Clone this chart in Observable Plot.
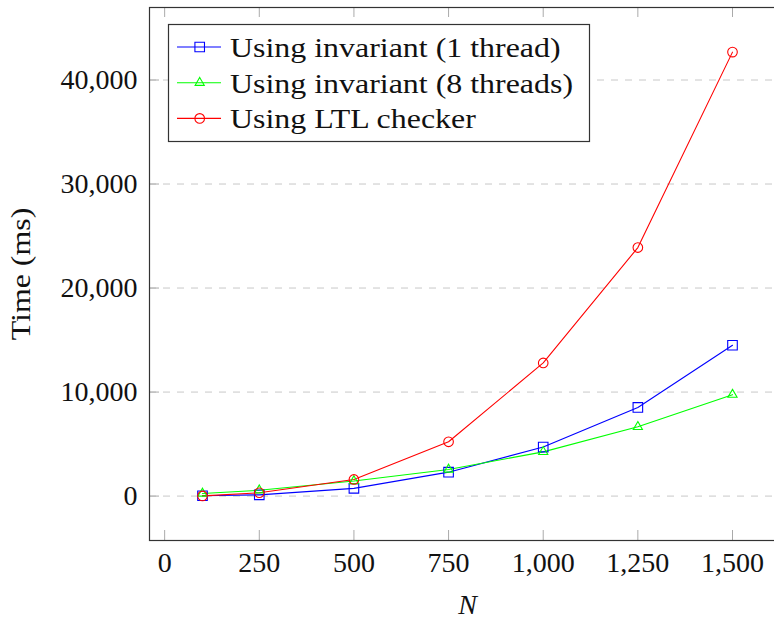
<!DOCTYPE html>
<html>
<head>
<meta charset="utf-8">
<script src="https://cdn.jsdelivr.net/npm/d3@7"></script>
<script src="https://cdn.jsdelivr.net/npm/@observablehq/plot@0.6"></script>
<style>
  html, body { margin: 0; padding: 0; background: #fff; overflow: hidden; }
  #wrap { position: relative; width: 774px; height: 618px; overflow: hidden; }
  #wrap svg { max-width: none !important; display: block; }
  #legend { position: absolute; left: 0; top: 0; }
</style>
</head>
<body>
<div id="wrap"></div>
<script>
// ---- data ----
const N = [100, 250, 500, 750, 1000, 1250, 1500];
const inv1 = [30, 120, 740, 2300, 4710, 8520, 14500];
const inv8 = [250, 560, 1450, 2560, 4250, 6660, 9750];
const ltl = [20, 320, 1600, 5220, 12800, 23890, 42680];
const seriesNames = ["Using invariant (1 thread)", "Using invariant (8 threads)", "Using LTL checker"];
const seriesColors = ["#0000ff", "#00ff00", "#ff0000"];
const seriesSymbols = ["square", "triangle", "circle"];
const xTicks = [0, 250, 500, 750, 1000, 1250, 1500];
const yTicks = [0, 10000, 20000, 30000, 40000];

const seriesValues = [inv1, inv8, ltl];
const rows = [];
seriesValues.forEach((vals, s) => vals.forEach((v, i) => rows.push({series: seriesNames[s], n: N[i], t: v, s})));

const symR = {square: 5.4, triangle: 3.4, circle: 4.8};
const FONT = "Liberation Serif";
const STRETCH = 1.14; // widen glyphs toward the reference's Palatino-like face
const fmt = d3.format(",");

const W = 790, H = 618, ML = 149, MR = 5, MT = 7, MB = 78;
const plotW = W - ML - MR, plotH = H - MT - MB, TICK = 10;

const chart = Plot.plot({
  width: W,
  height: H,
  marginLeft: ML,
  marginRight: MR,
  marginTop: MT,
  marginBottom: MB,
  style: {fontFamily: FONT, fontSize: "28px", color: "#111", background: "#fff", maxWidth: "none"},
  x: {domain: [-40, 1640]},
  y: {domain: [-4270, 46970]},
  marks: [
    Plot.gridY(yTicks, {stroke: "#c8c8c8", strokeOpacity: 1, strokeDasharray: "7,7"}),
    // inner tick marks
    Plot.tickX(xTicks, {x: d => d, stroke: "#aaa", strokeWidth: 1, insetTop: plotH - TICK}),
    Plot.tickX(xTicks, {x: d => d, stroke: "#aaa", strokeWidth: 1, insetBottom: plotH - TICK}),
    Plot.tickY(yTicks, {y: d => d, stroke: "#aaa", strokeWidth: 1, insetRight: plotW - TICK}),
    // tick labels
    Plot.axisX(xTicks, {anchor: "bottom", tickSize: 0, tickPadding: 12, tickFormat: fmt,
      label: "N", labelAnchor: "center", labelArrow: "none", labelOffset: 73, fill: "#111"}),
    Plot.axisY(yTicks, {anchor: "left", tickSize: 0, tickPadding: 12, tickFormat: fmt,
      label: "Time (ms)", labelAnchor: "center", labelArrow: "none", labelOffset: 139, fill: "#111"}),
    ...seriesNames.map((name, s) => Plot.line(rows.filter(d => d.s === s), {x: "n", y: "t", stroke: seriesColors[s], strokeWidth: 1.1})),
    ...seriesNames.map((name, s) => Plot.dot(rows.filter(d => d.s === s), {x: "n", y: "t", stroke: seriesColors[s], fill: "none", strokeWidth: 1.1, symbol: seriesSymbols[s], r: symR[seriesSymbols[s]]})),
    Plot.frame({stroke: "#333", strokeWidth: 1.2})
  ]
});

d3.select(chart).selectAll("[aria-label='x-axis label'] text, [aria-label='x-axis label']").style("font-style", "italic");
document.getElementById("wrap").appendChild(chart);

function stretch(sel) {
  sel.each(function () {
    const len = this.getComputedTextLength();
    if (len > 0) {
      this.setAttribute("textLength", len * STRETCH);
      this.setAttribute("lengthAdjust", "spacingAndGlyphs");
    }
  });
}
stretch(d3.select(chart).selectAll("[aria-label='y-axis label'] text"));

// ---- legend (inside the plot area, upper left) ----
const lg = d3.select("#wrap").append("svg").attr("id", "legend")
  .attr("width", 774).attr("height", 618)
  .style("pointer-events", "none");
const box = {x: 168.5, y: 24.5, w: 421, h: 117};
lg.append("rect").attr("x", box.x).attr("y", box.y).attr("width", box.w).attr("height", box.h)
  .attr("fill", "#fff").attr("stroke", "#333").attr("stroke-width", 1.2);
const symMap = {square: d3.symbolSquare, triangle: d3.symbolTriangle, circle: d3.symbolCircle};
seriesNames.forEach((name, s) => {
  const cy = 47 + s * 35.7;
  const g = lg.append("g");
  g.append("line").attr("x1", 177).attr("x2", 221).attr("y1", cy).attr("y2", cy)
    .attr("stroke", seriesColors[s]).attr("stroke-width", 1.1);
  const r = symR[seriesSymbols[s]];
  g.append("path").attr("d", d3.symbol(symMap[seriesSymbols[s]], Math.PI * r * r)())
    .attr("transform", `translate(199.7,${cy})`)
    .attr("fill", "none").attr("stroke", seriesColors[s]).attr("stroke-width", 1.1);
  g.append("text").attr("x", 230).attr("y", cy).attr("dy", "0.35em")
    .attr("font-family", FONT).attr("font-size", 28).attr("fill", "#111")
    .text(name);
});
stretch(lg.selectAll("text"));
</script>
</body>
</html>
